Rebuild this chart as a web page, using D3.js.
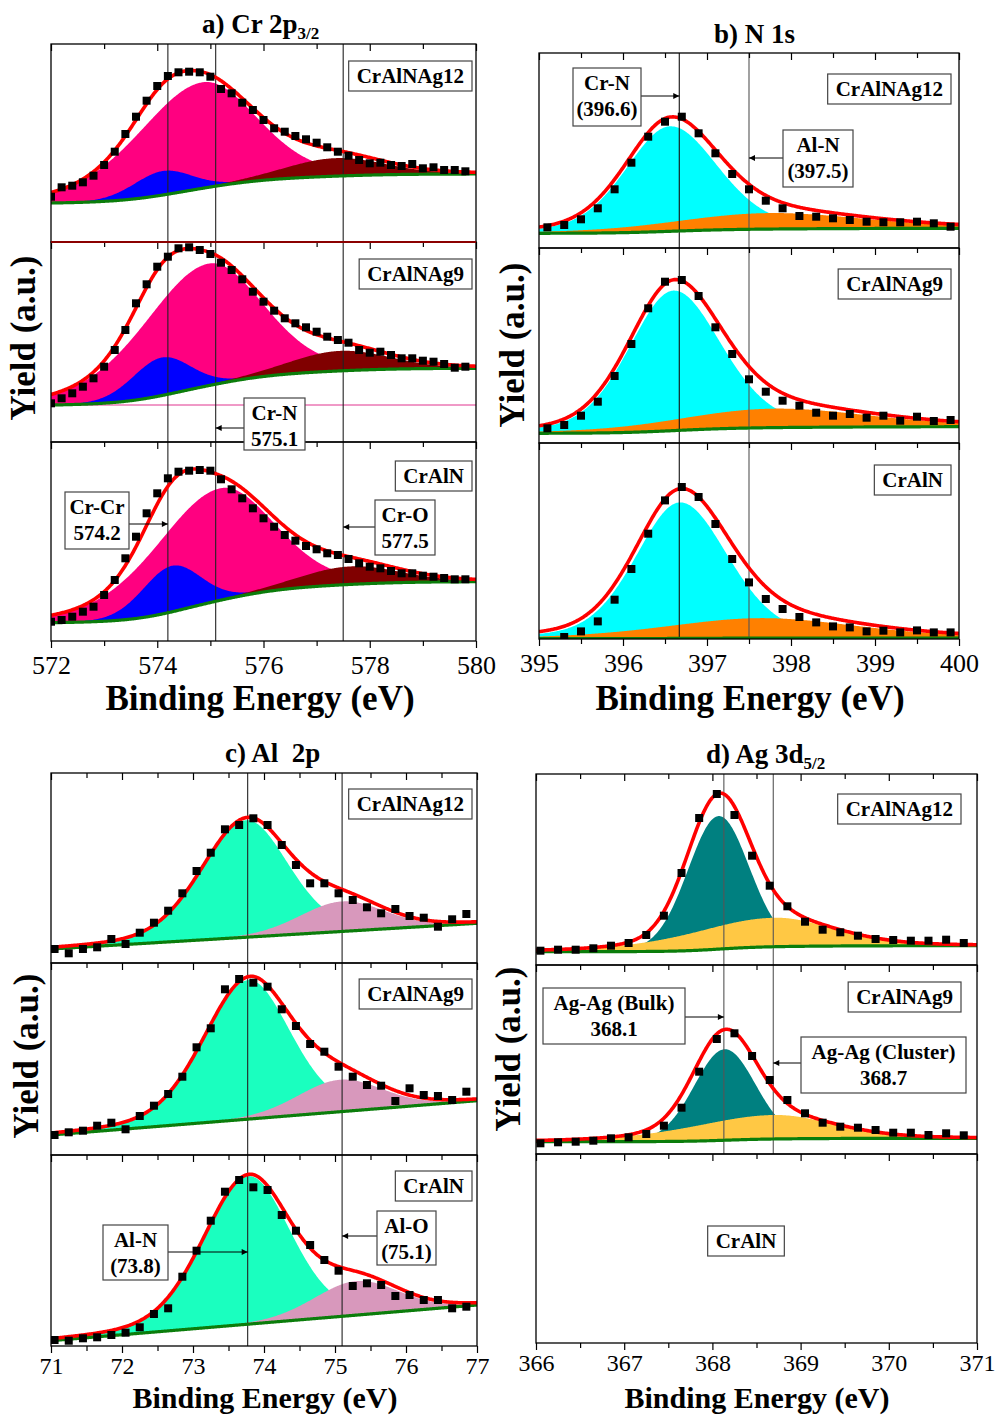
<!DOCTYPE html>
<html><head><meta charset="utf-8">
<script src="https://cdn.jsdelivr.net/npm/d3@7/dist/d3.min.js"></script>
<style>
body{margin:0;background:#fff;}
text{font-family:"Liberation Serif","Times New Roman",Times,serif;}
</style></head>
<body><svg id="chart" width="998" height="1416" xmlns="http://www.w3.org/2000/svg"></svg>
<script>
// ================= DATA =================
const sampleNames = ["CrAlNAg12","CrAlNAg9","CrAlN"];

// ---- a) Cr 2p3/2 ----
const crEnergy = [572.0,572.2,572.4,572.6,572.8,573.0,573.2,573.4,573.6,573.8,574.0,574.2,574.4,574.6,574.8,575.0,575.2,575.4,575.6,575.8,576.0,576.2,576.4,576.6,576.8,577.0,577.2,577.4,577.6,577.8,578.0,578.2,578.4,578.6,578.8,579.0,579.2,579.4,579.6,579.8];
const crAg12 = [45.3,54.7,56.3,59.7,66.3,77,90.3,108,125.3,141.3,156,166,169.7,170.3,169.7,165.3,153,148.7,139.3,132,122,113.7,110.3,106,102.7,99.3,94.7,90.3,86.3,82,78.7,79.3,77,76,78,73.7,74.7,72,72,70.7];
const crAg9 = [38.7,43.7,48.7,55.3,63.7,75.3,92,112,138.7,157.7,175.3,185.3,193.7,194.7,192,188,179.3,172,162.7,150.3,140.3,131.3,123.7,118.7,114.7,110.3,105.3,102,99.3,92,89.3,90.3,87,83.7,83.7,81.3,80.3,78,74.3,75.3];
const crAlN = [19.3,21,24.3,29.3,34.3,46,61,82.7,104.3,127.7,147.7,162.7,169.3,170.3,171,170.3,161.7,151.7,142.7,132.7,122.7,114.3,106,100.3,95,91.7,87.7,86,82,77.7,74.3,72.7,70,67.7,67.7,65.3,64.3,63,61.7,61.7];
const crComponents = ["Cr-N","Cr-Cr","Cr-O"];
const crCenters = [[574.85,574.10,577.35],[574.96,574.08,577.44],[575.18,574.27,577.63]];
const crHeights = [[106,24,18],[122,38,20],[112,46,18]];
const crWidthL = [2.9,1.3,2.2];
const crWidthR = [2.4,1.3,2.2];
const crLorentz = [0.2,0.1,0.1];
const crBackground = [[39,68],[37,73.7],[18.3,59.3]];
const crRefLines = [574.2,575.1,577.5];
const crTicks = [572,574,576,578,580];
const crMinor = [573,575,577,579];

// ---- b) N 1s ----
const nEnergy = [395.1,395.3,395.5,395.7,395.9,396.1,396.3,396.5,396.7,396.9,397.1,397.3,397.5,397.7,397.9,398.1,398.3,398.5,398.7,398.9,399.1,399.3,399.5,399.7,399.9];
const nEnergyCrAlN = [395.3,395.5,395.7,395.9,396.1,396.3,396.5,396.7,396.9,397.1,397.3,397.5,397.7,397.9,398.1,398.3,398.5,398.7,398.9,399.1,399.3,399.5,399.7,399.9];
const nAg12 = [20.7,23,28.7,39.7,58.7,85.3,111.3,126.3,131.3,114.7,94.7,74,58.7,47.3,39.7,32,31.3,29.7,28,26.3,25.7,25.7,26.3,24.7,21.3];
const nAg9 = [14.7,18,27.3,41.3,67,99,134.7,161.3,163,147,115.7,89,63.7,51.3,42.3,37.3,30.3,27.3,29,25.3,27.3,22.3,26.3,22,23];
const nAlN = [2,7.6,17.6,39.3,70,105.3,138.6,152,142,115,80,56.6,40,30,22,16.6,12.6,11.6,7.6,8.3,6.6,8.6,6.6,6.6];
const nComponents = ["Cr-N","Al-N"];
const nCenters = [[396.56,397.75],[396.6,397.8],[396.68,397.65]];
const nHeights = [[105,16],[140,19],[136,20]];
const nWidthL = [1.25,2.7];
const nWidthR = [1.35,2.7];
const nLorentz = [0.25,0.3];
const nBackground = [[14.7,19.7],[9.7,16.3],[0.3,1.0]];
const nRefLines = [396.67,397.5];
const nTicks = [395,396,397,398,399,400];
const nMinor = [395.5,396.5,397.5,398.5,399.5];

// ---- c) Al 2p ----
const alEnergy = [71.05,71.25,71.45,71.65,71.85,72.05,72.25,72.45,72.65,72.85,73.05,73.25,73.45,73.65,73.85,74.05,74.25,74.45,74.65,74.85,75.05,75.25,75.45,75.65,75.85,76.05,76.25,76.45,76.65,76.85];
const alAg12 = [14,9.7,14,15.7,24,19,30.3,40.3,52.3,69.7,92,110.3,133.7,138,144.7,138,118,98,79.7,79.7,69.7,63,55.7,49.7,54,47,45.3,36.3,43.7,49];
const alAg9 = [20,22.7,24.3,29.3,32.3,25.7,39,49.3,61,78.3,107.7,126.7,165.7,176,172.3,168.3,145.7,129,111,103.3,88.3,78.3,70,69.3,54,66.7,60,59,55,63.3];
const alAlN = [6,5.3,7.7,8.7,11,13.3,18.7,32,37.7,69.3,95.3,125.3,154.3,166,158.7,156,131,115.3,101,86,75.3,60,62.7,61,50,51,46,46,37.7,39.3];
const alComponents = ["Al-N","Al-O"];
const alCenters = [[73.75,75.1],[73.78,75.07],[73.78,75.3]];
const alHeights = [[117,30],[139,32],[148,34]];
const alWidthL = [1.5,1.4];
const alWidthR = [1.4,1.4];
const alLorentz = [0.2,0.1];
const alBackground = [[14,39.7],[20,54.3],[5.3,41]];
const alRefLines = [73.77,75.1];
const alTicks = [71,72,73,74,75,76,77];
const alMinor = [71.5,72.5,73.5,74.5,75.5,76.5];

// ---- d) Ag 3d5/2 ----
const agEnergy = [366.05,366.25,366.45,366.65,366.85,367.05,367.25,367.45,367.65,367.85,368.05,368.25,368.45,368.65,368.85,369.05,369.25,369.45,369.65,369.85,370.05,370.25,370.45,370.65,370.85];
const agAg12 = [14.3,15.3,15.3,16.7,19.3,22,30,49.3,92,147,171,150,109.3,79.3,58.7,43.3,35.3,32.7,29.3,26,25,24.3,24.3,25.3,22];
const agAg9 = [10.7,11.7,12.3,13.3,15.7,16.7,20,28.3,46.3,82.3,115,120.7,98,74,54,40.7,31.3,27.3,26.3,24,21.3,21.3,19,20.7,18.7];
const agComponents = ["Ag-Ag (Bulk)","Ag-Ag (Cluster)"];
const agCenters = [[368.07,368.7],[368.14,368.7]];
const agHeights = [[133,29],[91,24]];
const agWidthL = [0.82,2.2];
const agWidthR = [0.82,1.6];
const agLorentz = [0.05,0.25];
const agBackground = [[13.3,19.3],[12.3,15.7]];
const agRefLines = [368.13,368.69];
const agTicks = [366,367,368,369,370,371];
const agMinor = [366.5,367.5,368.5,369.5,370.5];

// ================= LAYOUT / STYLE =================
const panels = [
  { title:["a) Cr 2p","3/2"], titleX:202, titleY:33,
    left:51, right:476, rows:[44,242,442,641], domain:[572,580],
    ticks:crTicks, minor:crMinor,
    energies:[crEnergy,crEnergy,crEnergy], counts:[crAg12,crAg9,crAlN],
    centers:crCenters, heights:crHeights, wl:crWidthL, wr:crWidthR, lor:crLorentz,
    bg:crBackground, bgType:"shirley",
    colors:["#ff0080","#0000ff","#800000"],
    refLines:crRefLines, refColors:["#222","#222","#222"], refEnd:3,
    labelTops:[61,259,461], labelRight:472,
    xTitle:[260,710], yTitle:[35,338],
    notes:[
      {lines:["Cr-N","575.1"], box:[244,398,61,52], ay:428, target:575.1},
      {lines:["Cr-Cr","574.2"], box:[65,492,64,57], ay:524, target:574.2},
      {lines:["Cr-O","577.5"], box:[375,500,60,55], ay:527, target:577.5}
    ]},
  { title:["b) N 1s",""], titleX:714, titleY:43,
    left:539, right:959, rows:[53,248,443,639], domain:[395,400],
    ticks:nTicks, minor:nMinor,
    energies:[nEnergy,nEnergy,nEnergyCrAlN], counts:[nAg12,nAg9,nAlN],
    centers:nCenters, heights:nHeights, wl:nWidthL, wr:nWidthR, lor:nLorentz,
    bg:nBackground, bgType:"shirley",
    colors:["#00ffff","#ff8000"],
    refLines:nRefLines, refColors:["#111","#555"], refEnd:3,
    labelTops:[74,269,465], labelRight:951,
    xTitle:[750,710], yTitle:[524,345],
    notes:[
      {lines:["Cr-N","(396.6)"], box:[573,68,68,58], ay:96, target:396.67},
      {lines:["Al-N","(397.5)"], box:[783,130,70,57], ay:158, target:397.5}
    ]},
  { title:["c) Al  2p",""], titleX:225, titleY:762,
    left:51, right:477, rows:[773,963,1155,1346], domain:[71,77],
    ticks:alTicks, minor:alMinor,
    energies:[alEnergy,alEnergy,alEnergy], counts:[alAg12,alAg9,alAlN],
    centers:alCenters, heights:alHeights, wl:alWidthL, wr:alWidthR, lor:alLorentz,
    bg:alBackground, bgType:"linear",
    colors:["#1affbf","#d898bc"],
    refLines:alRefLines, refColors:["#222","#222"], refEnd:3,
    labelTops:[789,979,1171], labelRight:472,
    xTitle:[265,1408], yTitle:[38,1056],
    notes:[
      {lines:["Al-N","(73.8)"], box:[103,1225,65,55], ay:1252, target:73.77},
      {lines:["Al-O","(75.1)"], box:[377,1211,59,54], ay:1236, target:75.1}
    ]},
  { title:["d) Ag 3d","5/2"], titleX:706, titleY:763,
    left:536, right:977, rows:[774,965,1154,1343], domain:[366,371],
    ticks:agTicks, minor:agMinor,
    energies:[agEnergy,agEnergy], counts:[agAg12,agAg9],
    centers:agCenters, heights:agHeights, wl:agWidthL, wr:agWidthR, lor:agLorentz,
    bg:agBackground, bgType:"shirley",
    colors:["#008080","#ffc844"],
    refLines:agRefLines, refColors:["#555","#555"], refEnd:2,
    labelTops:[794,982,1226], labelRight:961, centerLast:746,
    xTitle:[757,1408], yTitle:[520,1049],
    notes:[
      {lines:["Ag-Ag (Bulk)","368.1"], box:[543,988,142,56], ay:1017, target:368.13},
      {lines:["Ag-Ag (Cluster)","368.7"], box:[801,1037,165,56], ay:1063, target:368.69}
    ]}
];

// ================= DRAW =================
const svg = d3.select("#chart");
svg.append("rect").attr("width",998).attr("height",1416).attr("fill","#fff");
const defs = svg.append("defs");
defs.append("marker").attr("id","ah").attr("viewBox","0 0 10 10")
  .attr("refX",10).attr("refY",5).attr("markerWidth",9).attr("markerHeight",6)
  .attr("markerUnits","userSpaceOnUse").attr("orient","auto")
  .append("path").attr("d","M0,0L10,5L0,10z").attr("fill","#000");

function peakShape(x,c,h,wl,wr,m){
  const d=x-c, w=d<0?wl:wr, t=(d/w)*(d/w);
  return h*((1-m)*Math.exp(-4*Math.LN2*t)+m/(1+4*t));
}
function evalModel(p,s){
  const n=500, x0=p.domain[0], x1=p.domain[1];
  const xs=d3.range(n+1).map(i=>x0+(x1-x0)*i/n);
  const comps=p.centers[s].map((c,k)=>xs.map(x=>peakShape(x,c,p.heights[s][k],p.wl[k],p.wr[k],p.lor[k])));
  const tot=xs.map((x,i)=>d3.sum(comps,cc=>cc[i]));
  const [b0,b1]=p.bg[s];
  let bg;
  if(p.bgType==="linear"){
    bg=xs.map(x=>b0+(b1-b0)*(x-x0)/(x1-x0));
  } else {
    const cum=[0];
    for(let i=1;i<=n;i++) cum[i]=cum[i-1]+(tot[i]+tot[i-1])/2;
    bg=cum.map(v=>b0+(b1-b0)*v/cum[n]);
  }
  return {xs,comps,bg,fit:tot.map((v,i)=>v+bg[i])};
}

panels.forEach((p,pi)=>{
  const g=svg.append("g");
  const x=d3.scaleLinear().domain(p.domain).range([p.left,p.right]);
  const nSub=3;
  const yScales=[];
  for(let s=0;s<nSub;s++){
    const top=p.rows[s], bot=p.rows[s+1];
    yScales.push(d3.scaleLinear().domain([0,bot-top]).range([bot,top]));
    defs.append("clipPath").attr("id",`clip${pi}_${s}`).append("rect")
      .attr("x",p.left).attr("y",top).attr("width",p.right-p.left).attr("height",bot-top);
  }
  const models=p.counts.map((c,s)=>evalModel(p,s));

  models.forEach((m,s)=>{
    const y=yScales[s];
    const sg=g.append("g").attr("clip-path",`url(#clip${pi}_${s})`);
    m.comps.forEach((cc,k)=>{
      const area=d3.area().x((d,i)=>x(m.xs[i])).y0((d,i)=>y(m.bg[i])).y1((d,i)=>y(m.bg[i]+cc[i]));
      sg.append("path").datum(cc).attr("d",area).attr("fill",p.colors[k]);
    });
  });
  if(pi===0){
    g.append("line").attr("x1",p.left).attr("x2",p.right)
      .attr("y1",yScales[1](crBackground[1][0])).attr("y2",yScales[1](crBackground[1][0]))
      .attr("stroke","#e0348f").attr("stroke-width",1);
  }
  p.refLines.forEach((v,k)=>{
    g.append("line").attr("x1",x(v)).attr("x2",x(v)).attr("y1",p.rows[0]).attr("y2",p.rows[p.refEnd])
      .attr("stroke",p.refColors[k]).attr("stroke-width",1.1);
  });
  models.forEach((m,s)=>{
    const y=yScales[s];
    const sg=g.append("g").attr("clip-path",`url(#clip${pi}_${s})`);
    sg.append("path").datum(m.bg).attr("d",d3.line().x((d,i)=>x(m.xs[i])).y(d=>y(d)))
      .attr("fill","none").attr("stroke","#0b7d0b").attr("stroke-width",3.2);
    sg.append("path").datum(m.fit).attr("d",d3.line().x((d,i)=>x(m.xs[i])).y(d=>y(d)))
      .attr("fill","none").attr("stroke","#ff0000").attr("stroke-width",3.6);
    const en=p.energies[s];
    sg.selectAll("rect.pt").data(p.counts[s]).join("rect").attr("class","pt")
      .attr("x",(d,i)=>x(en[i])-4).attr("y",d=>y(d)-4).attr("width",8).attr("height",8).attr("fill","#000");
  });
  for(let s=0;s<nSub;s++){
    const top=p.rows[s], bot=p.rows[s+1];
    g.append("rect").attr("x",p.left).attr("y",top).attr("width",p.right-p.left).attr("height",bot-top)
      .attr("fill","none").attr("stroke","#000").attr("stroke-width",1.3);
    const ta=g.append("g").attr("transform",`translate(0,${top})`)
      .call(d3.axisTop(x).tickValues(p.ticks).tickSize(-7).tickFormat(""));
    ta.select(".domain").remove();
    const tm=g.append("g").attr("transform",`translate(0,${top})`)
      .call(d3.axisTop(x).tickValues(p.minor).tickSize(-5).tickFormat(""));
    tm.select(".domain").remove();
  }
  if(pi===0){
    g.append("line").attr("x1",p.left).attr("x2",p.right).attr("y1",p.rows[1]).attr("y2",p.rows[1])
      .attr("stroke","#8b0000").attr("stroke-width",2.2);
  }
  const bot=p.rows[3];
  const ba=g.append("g").attr("transform",`translate(0,${bot})`)
    .call(d3.axisBottom(x).tickValues(p.ticks).tickSize(7).tickPadding(pi<2?8:4).tickFormat(d3.format("d")));
  ba.select(".domain").remove();
  ba.selectAll("text").attr("font-size",pi<2?26:24).attr("fill","#000")
    .style("font-family",'"Liberation Serif","Times New Roman",serif');
  const bm=g.append("g").attr("transform",`translate(0,${bot})`)
    .call(d3.axisBottom(x).tickValues(p.minor).tickSize(5).tickFormat(""));
  bm.select(".domain").remove();
  g.selectAll(".tick line").attr("stroke","#000").attr("stroke-width",1.2);

  sampleNames.forEach((name,s)=>{
    const lg=g.append("g");
    const rect=lg.append("rect");
    const t=lg.append("text").attr("font-size",21).attr("font-weight","bold").text(name);
    const w=t.node().getComputedTextLength();
    const bw=w+16, bh=30;
    let bx=p.labelRight-bw;
    if(s===2 && p.centerLast) bx=p.centerLast-bw/2;
    const by=p.labelTops[s];
    rect.attr("x",bx).attr("y",by).attr("width",bw).attr("height",bh)
      .attr("fill","#fff").attr("stroke","#444").attr("stroke-width",1.2);
    t.attr("x",bx+8).attr("y",by+22);
  });

  p.notes.forEach(n=>{
    const [bx,by,bw,bh]=n.box;
    const tx=x(n.target);
    const fromX = tx<bx ? bx : bx+bw;
    g.append("line").attr("x1",fromX).attr("y1",n.ay).attr("x2",tx).attr("y2",n.ay)
      .attr("stroke","#000").attr("stroke-width",1).attr("marker-end","url(#ah)");
    g.append("rect").attr("x",bx).attr("y",by).attr("width",bw).attr("height",bh)
      .attr("fill","#fff").attr("stroke","#444").attr("stroke-width",1.2);
    n.lines.forEach((ln,i)=>{
      g.append("text").attr("x",bx+bw/2).attr("y",by+22+i*26).attr("text-anchor","middle")
        .attr("font-size",21).attr("font-weight","bold").text(ln);
    });
  });

  const tt=svg.append("text").attr("x",p.titleX).attr("y",p.titleY).attr("font-size",27)
    .attr("font-weight","bold").style("white-space","pre");
  tt.append("tspan").text(p.title[0]);
  if(p.title[1]) tt.append("tspan").attr("font-size",17).attr("dy",6).text(p.title[1]);
  svg.append("text").attr("x",p.xTitle[0]).attr("y",p.xTitle[1]).attr("text-anchor","middle")
    .attr("font-size",pi<2?35:30).attr("font-weight","bold").text("Binding Energy (eV)");
  svg.append("text").attr("transform",`translate(${p.yTitle[0]},${p.yTitle[1]}) rotate(-90)`)
    .attr("text-anchor","middle").attr("font-size",35).attr("font-weight","bold").text("Yield (a.u.)");
});
</script>
</body></html>
